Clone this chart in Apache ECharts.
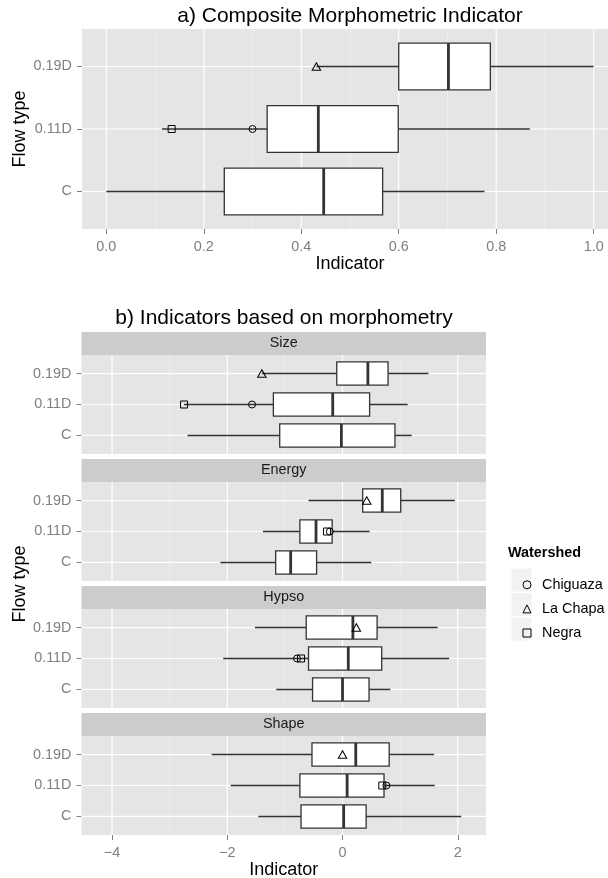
<!DOCTYPE html>
<html><head><meta charset="utf-8">
<script src="https://cdn.jsdelivr.net/npm/echarts@6/dist/echarts.min.js"></script>
<style>html,body{margin:0;padding:0;background:#fff}#chart{width:608px;height:878px}</style>
</head><body><div id="chart"></div>
<script>
// ---------- data ----------
const flowTypes = ['C', '0.11D', '0.19D'];
// box stats per flow type [C, 0.11D, 0.19D]: [whisker low, Q1, median, Q3, whisker high]
const compositeBoxes = [[0.000, 0.242, 0.446, 0.567, 0.776], [0.114, 0.330, 0.435, 0.599, 0.869], [0.431, 0.600, 0.702, 0.788, 1.000]];
const sizeBoxes   = [[-2.69, -1.09, -0.02, 0.91, 1.20], [-2.75, -1.20, -0.17, 0.47, 1.13], [-1.40, -0.10, 0.44, 0.79, 1.49]];
const energyBoxes = [[-2.12, -1.16, -0.90, -0.45, 0.50], [-1.38, -0.74, -0.46, -0.18, 0.47], [-0.59, 0.35, 0.69, 1.01, 1.95]];
const hypsoBoxes  = [[-1.15, -0.52, 0.00, 0.46, 0.83], [-2.07, -0.59, 0.10, 0.68, 1.85], [-1.52, -0.63, 0.18, 0.60, 1.65]];
const shapeBoxes  = [[-1.46, -0.72, 0.02, 0.41, 2.06], [-1.94, -0.74, 0.08, 0.72, 1.60], [-2.27, -0.53, 0.23, 0.81, 1.59]];
const panelNames = ['Size', 'Energy', 'Hypso', 'Shape'];
// watershed points, one value per panel: [Composite, Size, Energy, Hypso, Shape]
const chiguazaFlow = '0.11D';
const chiguazaValues = [0.300, -1.57, -0.22, -0.79, 0.76];
const laChapaFlow = '0.19D';
const laChapaValues = [0.431, -1.40, 0.42, 0.24, 0.00];
const negraFlow = '0.11D';
const negraValues = [0.134, -2.75, -0.27, -0.72, 0.69];
// axis ticks
const compositeTicks = [0, 0.2, 0.4, 0.6, 0.8, 1.0];
const compositeMinorTicks = [0.1, 0.3, 0.5, 0.7, 0.9];
const facetTicks = [-4, -2, 0, 2];
const facetMinorTicks = [-3, -1, 1];
const compositeRange = [-0.05, 1.05];
const facetRange = [-4.53, 2.49];

// ---------- layout / style ----------
const FONT = "'Liberation Sans', Arial, Helvetica, sans-serif";
const FL = 81.5, FW = 404.5, FH = 99, SH = 23;
const FT = [355, 482, 609, 736];
const catPos = flowTypes.map((_, k) => k + 1);

const grids = [{ left: 82, top: 29, width: 536, height: 200 }];
FT.forEach(t => grids.push({ left: FL, top: t, width: FW, height: FH }));
grids.forEach(g => { g.show = true; g.backgroundColor = '#E5E5E5'; g.borderWidth = 0; g.containLabel = false; g.outerBoundsMode = 'none'; });

const allBoxes = [compositeBoxes, sizeBoxes, energyBoxes, hypsoBoxes, shapeBoxes];

const xAxes = grids.map((g, i) => {
  const isTop = i === 0;
  const showAx = i === 0 || i === 4;
  const ticks = isTop ? compositeTicks : facetTicks;
  const rng = isTop ? compositeRange : facetRange;
  return {
    type: 'value', gridIndex: i, min: rng[0], max: rng[1], position: 'bottom',
    axisLine: { show: false, onZero: false }, splitLine: { show: false },
    axisTick: { show: showAx, customValues: ticks, length: 5, lineStyle: { color: '#7F7F7F', width: 1 } },
    axisLabel: { show: showAx, customValues: ticks, margin: 11, color: '#7F7F7F', fontSize: 14.4, fontFamily: FONT,
      formatter: v => isTop ? Number(v).toFixed(1) : (v < 0 ? '\u2212' + Math.abs(v) : String(v)) },
    name: showAx ? 'Indicator' : '', nameLocation: 'middle', nameGap: 25,
    nameTextStyle: { fontSize: 18, color: '#000', fontFamily: FONT }
  };
});
const yAxes = grids.map((g, i) => ({
  type: 'value', gridIndex: i, min: 0.4, max: 3.6, position: 'left',
  axisLine: { show: false, onZero: false }, splitLine: { show: false },
  axisTick: { show: true, customValues: catPos, length: 5, lineStyle: { color: '#7F7F7F', width: 1 } },
  axisLabel: { show: true, customValues: catPos, margin: 10, color: '#7F7F7F', fontSize: 14.4, fontFamily: FONT,
    formatter: v => (Number.isInteger(v) && flowTypes[v - 1]) ? flowTypes[v - 1] : '' }
}));

function renderGridLines(major, minor) {
  return function (params, api) {
    const cs = params.coordSys;
    const ch = [];
    minor.forEach(v => {
      const x = api.coord([v, 1])[0];
      ch.push({ type: 'line', shape: { x1: x, y1: cs.y, x2: x, y2: cs.y + cs.height }, style: { stroke: '#F2F2F2', lineWidth: 0.7 } });
    });
    major.forEach(v => {
      const x = api.coord([v, 1])[0];
      ch.push({ type: 'line', shape: { x1: x, y1: cs.y, x2: x, y2: cs.y + cs.height }, style: { stroke: '#FFFFFF', lineWidth: 1.2 } });
    });
    catPos.forEach(c => {
      const y = api.coord([0, c])[1];
      ch.push({ type: 'line', shape: { x1: cs.x, y1: y, x2: cs.x + cs.width, y2: y }, style: { stroke: '#FFFFFF', lineWidth: 1.2 } });
    });
    return { type: 'group', children: ch };
  };
}

function renderBox(params, api) {
  const c = api.value(0);
  const cy = api.coord([0, c])[1];
  const yTop = api.coord([0, c + 0.375])[1];
  const yBot = api.coord([0, c - 0.375])[1];
  const X = k => api.coord([api.value(k), c])[0];
  const xMin = X(1), xQ1 = X(2), xMed = X(3), xQ3 = X(4), xMax = X(5);
  const st = { stroke: '#333333', lineWidth: 1.5 };
  return { type: 'group', children: [
    { type: 'line', shape: { x1: xMin, y1: cy, x2: xQ1, y2: cy }, style: st },
    { type: 'line', shape: { x1: xQ3, y1: cy, x2: xMax, y2: cy }, style: st },
    { type: 'rect', shape: { x: xQ1, y: yTop, width: xQ3 - xQ1, height: yBot - yTop }, style: { fill: '#FFFFFF', stroke: '#333333', lineWidth: 1.3 } },
    { type: 'line', shape: { x1: xMed, y1: yTop, x2: xMed, y2: yBot }, style: { stroke: '#333333', lineWidth: 2.8 } }
  ] };
}

const watersheds = [
  ['Chiguaza', 'circle', 7, chiguazaFlow, chiguazaValues],
  ['La Chapa', 'triangle', [8.5, 7.5], laChapaFlow, laChapaValues],
  ['Negra', 'rect', 7, negraFlow, negraValues]
];

const series = [];
grids.forEach((g, i) => {
  const isTop = i === 0;
  series.push({
    type: 'custom', xAxisIndex: i, yAxisIndex: i, z: 1, silent: true,
    encode: { x: 0, y: 1 }, data: [[0, 1]],
    renderItem: renderGridLines(isTop ? compositeTicks : facetTicks, isTop ? compositeMinorTicks : facetMinorTicks)
  });
  series.push({
    type: 'custom', xAxisIndex: i, yAxisIndex: i, z: 2, silent: true,
    encode: { x: [1, 2, 3, 4, 5], y: 0 },
    data: allBoxes[i].map((b, k) => [catPos[k]].concat(b)),
    renderItem: renderBox
  });
  watersheds.forEach(([name, sym, size, flow, vals]) => {
    series.push({
      type: 'scatter', name, xAxisIndex: i, yAxisIndex: i, z: 3, silent: true,
      symbol: sym, symbolSize: size,
      itemStyle: { color: 'rgba(0,0,0,0)', borderColor: '#000', borderWidth: 1, opacity: 1 },
      data: [[vals[i], flowTypes.indexOf(flow) + 1]]
    });
  });
});

const graphic = [
  { type: 'text', x: 350, y: 16, style: { text: 'a) Composite Morphometric Indicator', fontSize: 21, fontFamily: FONT, fill: '#000', align: 'center', verticalAlign: 'middle' } },
  { type: 'text', x: 284, y: 318, style: { text: 'b) Indicators based on morphometry', fontSize: 21, fontFamily: FONT, fill: '#000', align: 'center', verticalAlign: 'middle' } },
  { type: 'text', x: 20, y: 129, rotation: Math.PI / 2, style: { text: 'Flow type', fontSize: 18, fontFamily: FONT, fill: '#000', align: 'center', verticalAlign: 'middle' } },
  { type: 'text', x: 20, y: 584, rotation: Math.PI / 2, style: { text: 'Flow type', fontSize: 18, fontFamily: FONT, fill: '#000', align: 'center', verticalAlign: 'middle' } },
  { type: 'text', x: 508, y: 553, style: { text: 'Watershed', fontSize: 14.4, fontWeight: 'bold', fontFamily: FONT, fill: '#000', align: 'left', verticalAlign: 'middle' } }
];
panelNames.forEach((p, k) => {
  graphic.push({ type: 'rect', shape: { x: FL, y: FT[k] - SH, width: FW, height: SH }, style: { fill: '#CCCCCC' } });
  graphic.push({ type: 'text', x: FL + FW / 2, y: FT[k] - SH / 2, style: { text: p, fontSize: 14.4, fontFamily: FONT, fill: '#1A1A1A', align: 'center', verticalAlign: 'middle' } });
});
[580, 604.5, 629].forEach(cy => {
  graphic.push({ type: 'rect', z: 0, shape: { x: 511, y: cy - 12, width: 21, height: 24 }, style: { fill: '#F2F2F2', stroke: '#FFFFFF', lineWidth: 1 } });
});

const chart = echarts.init(document.getElementById('chart'), null, { renderer: 'canvas' });
chart.setOption({
  animation: false,
  backgroundColor: '#FFFFFF',
  textStyle: { fontFamily: FONT },
  grid: grids, xAxis: xAxes, yAxis: yAxes, series,
  graphic: { elements: graphic },
  legend: {
    data: watersheds.map(w => w[0]), orient: 'vertical', left: 517.5, top: 572.8,
    itemWidth: 8, itemHeight: 8, itemGap: 10.1, selectedMode: false,
    itemStyle: { color: 'rgba(0,0,0,0)', borderColor: '#000', borderWidth: 1 },
    textStyle: { fontSize: 14.4, color: '#000', fontFamily: FONT, padding: [0, 0, 0, 6] }
  }
});
</script></body></html>
